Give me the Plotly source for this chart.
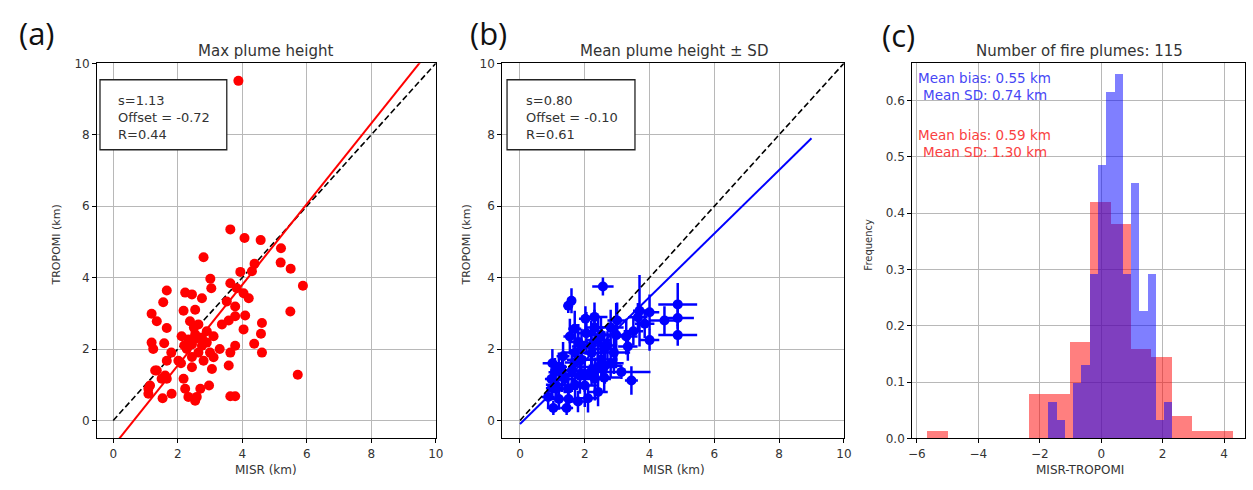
import plotly.graph_objects as go

W, H = 1253, 490

# ---------------- data: panel (a) max plume height ----------------
max_misr = [3.63, 4.07, 4.57, 5.20, 2.80, 5.19, 5.50, 4.38, 3.94, 4.30, 5.88, 3.01, 3.04, 3.63, 3.83,
            1.66, 2.23, 2.44, 2.75, 1.55, 4.20, 4.04, 3.78, 3.52, 5.49, 1.19, 2.18, 2.54, 1.35, 2.38,
            2.64, 1.66, 3.37, 3.58, 3.78, 4.09, 4.61, 4.04, 4.58, 1.19, 1.58, 1.24, 2.12, 2.33, 2.54,
            2.75, 3.11, 2.44, 2.75, 2.90, 2.28, 2.64, 3.78, 3.63, 4.37, 4.61, 2.02, 1.66, 2.44, 2.80,
            3.11, 2.44, 3.06, 3.58, 1.35, 1.61, 1.50, 1.14, 1.66, 2.18, 5.72, 1.09, 1.53, 1.81, 2.23,
            2.33, 2.59, 2.70, 2.97, 2.54, 3.63, 3.78, 1.09, 3.88, 2.60, 2.40, 2.20, 2.90, 1.80, 1.30,
            2.10, 3.00, 2.50, 3.30]
max_tropomi = [5.35, 5.11, 5.05, 4.82, 4.57, 4.42, 4.25, 4.39, 4.16, 4.18, 3.77, 3.97, 3.70, 3.84, 3.70,
               3.64, 3.58, 3.53, 3.42, 3.31, 3.42, 3.56, 3.19, 3.33, 3.05, 2.99, 3.07, 3.10, 2.78, 2.78,
               2.69, 2.59, 2.69, 2.80, 2.92, 2.94, 2.73, 2.55, 2.43, 2.18, 2.16, 2.00, 2.36, 2.27, 2.41,
               2.32, 2.36, 2.13, 2.09, 2.18, 2.00, 1.90, 2.09, 1.90, 2.15, 1.90, 1.67, 1.67, 1.78, 1.67,
               1.77, 1.49, 1.44, 1.54, 1.40, 1.26, 1.17, 0.98, 1.17, 1.17, 1.28, 0.75, 0.62, 0.75, 0.89,
               0.66, 0.66, 0.89, 0.98, 0.55, 0.68, 0.68, 0.89, 9.51, 2.30, 2.20, 2.10, 2.50, 1.90, 1.40,
               1.60, 1.90, 2.60, 2.00]
fit_a_x = [0.0, 10.0]
fit_a_y = [-0.72, 10.58]

# ---------------- data: panel (b) mean plume height +- SD ----------------
mean_misr = [2.56, 1.49, 1.59, 2.02, 3.69, 4.00, 4.46, 4.87, 4.87, 4.87, 3.85, 3.64, 4.00, 3.28, 3.33,
             2.97, 1.54, 2.05, 2.41, 1.90, 2.21, 2.51, 1.33, 1.69, 1.08, 0.97, 1.38, 1.85, 2.21, 3.13,
             3.44, 1.13, 1.49, 2.00, 2.41, 1.03, 1.44, 2.10, 0.87, 1.79, 2.31, 2.62, 1.69, 1.20, 1.00,
             2.60, 2.80, 1.70, 2.30, 1.10, 1.30, 1.60, 1.90, 2.20, 2.50, 2.70, 2.90, 1.80, 2.40,
             1.50, 1.20, 2.00, 2.60, 3.00, 2.30, 1.70, 1.00, 2.80, 3.50]
mean_tropomi = [3.75, 3.21, 3.35, 2.85, 3.07, 3.03, 2.80, 3.25, 2.87, 2.39, 2.71, 2.89, 2.25, 2.35, 2.07,
                2.39, 2.35, 2.44, 2.25, 2.07, 1.89, 1.71, 1.80, 1.62, 1.35, 1.16, 1.16, 1.25, 1.39, 1.36,
                1.12, 0.89, 0.89, 0.98, 0.80, 0.35, 0.35, 0.62, 0.66, 0.53, 1.16, 1.53, 2.57, 1.50, 0.90,
                2.00, 1.60, 1.00, 2.60, 1.00, 1.30, 1.40, 1.70, 2.10, 2.40, 2.10, 1.90, 2.20, 1.50,
                0.60, 0.60, 1.30, 1.20, 2.80, 2.90, 1.90, 1.60, 2.60, 2.50]
sd_misr = [0.33, 0.15, 0.10, 0.20, 0.20, 0.30, 0.45, 0.60, 0.50, 0.60, 0.30, 0.30, 0.30, 0.35, 0.30,
           0.30, 0.20, 0.30, 0.40, 0.30, 0.40, 0.50, 0.20, 0.30, 0.20, 0.20, 0.30, 0.40, 0.50, 0.90,
           0.20, 0.30, 0.30, 0.40, 0.30, 0.20, 0.20, 0.30, 0.20, 0.30, 0.50, 0.50, 0.20, 0.25, 0.20,
           0.40, 0.40, 0.30, 0.30, 0.30, 0.35, 0.40, 0.45, 0.50, 0.40, 0.30, 0.50, 0.30, 0.60,
           0.30, 0.25, 0.40, 0.50, 0.30, 0.40, 0.35, 0.30, 0.40, 0.30]
sd_tropomi = [0.25, 0.20, 0.35, 0.35, 1.00, 0.50, 0.40, 0.60, 0.30, 0.30, 0.40, 0.40, 0.30, 0.50, 0.40,
              0.90, 0.50, 0.60, 0.70, 0.50, 0.60, 0.50, 0.40, 0.50, 0.40, 0.30, 0.40, 0.50, 0.40, 0.20,
              0.40, 0.30, 0.40, 0.60, 0.40, 0.20, 0.20, 0.40, 0.30, 0.30, 0.60, 0.50, 0.50, 0.40, 0.30,
              0.50, 0.40, 0.40, 0.50, 0.40, 0.50, 0.60, 0.50, 0.70, 0.50, 0.40, 0.60, 0.50, 0.40,
              0.30, 0.30, 0.50, 0.40, 0.50, 0.40, 0.60, 0.40, 0.50, 0.40]
fit_b_x = [0.0, 9.0]
fit_b_y = [-0.10, 7.90]
one_to_one = [0.0, 10.0]

# ---------------- data: panel (c) histograms ----------------
red_left, red_width = -5.655, 0.663
red_freq = [0.0131, 0.0, 0.0, 0.0, 0.0, 0.0787, 0.0787, 0.1706, 0.4199, 0.3805,
            0.1575, 0.1443, 0.0394, 0.0131, 0.0131]
blue_left, blue_width = -1.71, 0.269
blue_freq = [0.0647, 0.0323, 0.0, 0.0970, 0.1293, 0.2909, 0.4849, 0.6141, 0.6464, 0.2909,
             0.4525, 0.2263, 0.2909, 0.0323, 0.0647]

# ---------------- helpers ----------------
def px(x):
    return x / W

def py(y):
    return 1 - y / H

FONT = "DejaVu Sans"
TXT = "#333333"

fig = go.Figure()

# panel (a)
fig.add_trace(go.Scatter(x=one_to_one, y=one_to_one, mode="lines",
                         line=dict(color="black", width=1.6, dash="6px,3px"),
                         xaxis="x", yaxis="y", showlegend=False))
fig.add_trace(go.Scatter(x=max_misr, y=max_tropomi, mode="markers",
                         marker=dict(color="red", size=10),
                         xaxis="x", yaxis="y", showlegend=False))
fig.add_trace(go.Scatter(x=fit_a_x, y=fit_a_y, mode="lines",
                         line=dict(color="red", width=2),
                         xaxis="x", yaxis="y", showlegend=False))

# panel (b)
fig.add_trace(go.Scatter(x=mean_misr, y=mean_tropomi, mode="markers",
                         marker=dict(color="blue", size=10),
                         error_x=dict(type="data", array=sd_misr, color="blue", thickness=2.5, width=0),
                         error_y=dict(type="data", array=sd_tropomi, color="blue", thickness=2.5, width=0),
                         xaxis="x2", yaxis="y2", showlegend=False))
fig.add_trace(go.Scatter(x=one_to_one, y=one_to_one, mode="lines",
                         line=dict(color="black", width=1.6, dash="6px,3px"),
                         xaxis="x2", yaxis="y2", showlegend=False))
fig.add_trace(go.Scatter(x=fit_b_x, y=fit_b_y, mode="lines",
                         line=dict(color="blue", width=2),
                         xaxis="x2", yaxis="y2", showlegend=False))

# panel (c)
red_centers = [red_left + red_width * (i + 0.5) for i in range(len(red_freq))]
blue_centers = [blue_left + blue_width * (i + 0.5) for i in range(len(blue_freq))]
fig.add_trace(go.Bar(x=red_centers, y=red_freq, width=red_width,
                     marker=dict(color="rgba(255,0,0,0.5)", line=dict(width=0)),
                     xaxis="x3", yaxis="y3", showlegend=False))
fig.add_trace(go.Bar(x=blue_centers, y=blue_freq, width=blue_width,
                     marker=dict(color="rgba(0,0,255,0.5)", line=dict(width=0)),
                     xaxis="x3", yaxis="y3", showlegend=False))

axis_common = dict(showline=True, linecolor="black", linewidth=1, mirror=True,
                   ticks="outside", ticklen=4, tickcolor="black", tickwidth=1,
                   showgrid=True, gridcolor="#b8b8b8", gridwidth=1, zeroline=False,
                   tickfont=dict(family=FONT, size=12, color=TXT))

ydom = [py(444), py(58)]
fig.update_layout(
    width=W, height=H,
    margin=dict(l=0, r=0, t=0, b=0),
    paper_bgcolor="white", plot_bgcolor="white",
    barmode="overlay", bargap=0,
    xaxis=dict(domain=[px(94), px(436)], range=[-0.5, 10], dtick=2, tick0=0, anchor="y", **axis_common),
    yaxis=dict(domain=ydom, range=[-0.5, 10], dtick=2, tick0=0, anchor="x", **axis_common),
    xaxis2=dict(domain=[px(503), px(848)], range=[-0.55, 10], dtick=2, tick0=0, anchor="y2", **axis_common),
    yaxis2=dict(domain=ydom, range=[-0.5, 10], dtick=2, tick0=0, anchor="x2", **axis_common),
    xaxis3=dict(domain=[px(917), 1.0], range=[-6.15, 4.68], dtick=2, tick0=0, anchor="y3", **axis_common),
    yaxis3=dict(domain=ydom, range=[0, 0.666], dtick=0.1, tick0=0, tickformat=".1f", anchor="x3", **axis_common),
)

# text boxes
fig.add_shape(type="rect", xref="x", yref="y", x0=-0.41, x1=3.52, y0=7.58, y1=9.54,
              line=dict(color="#222222", width=1.3), fillcolor="white", layer="above")
fig.add_shape(type="rect", xref="x2", yref="y2", x0=-0.40, x1=3.55, y0=7.58, y1=9.54,
              line=dict(color="#222222", width=1.3), fillcolor="white", layer="above")

ann = []
def text(x, y, s, size=12, color=TXT, xanchor="center", yanchor="middle", align="center", angle=0, family=FONT):
    ann.append(dict(x=px(x), y=py(y), xref="paper", yref="paper", text=s, showarrow=False,
                    xanchor=xanchor, yanchor=yanchor, align=align, textangle=angle,
                    font=dict(family=family, size=size, color=color)))

text(113, 86, "s=1.13<br>Offset = -0.72<br>R=0.44", size=13, xanchor="left", yanchor="top", align="left")
text(525, 86, "s=0.80<br>Offset = -0.10<br>R=0.61", size=13, xanchor="left", yanchor="top", align="left")

# titles
text(265, 45, "Max plume height", size=15)
text(676, 45, "Mean plume height ± SD", size=15)
text(1086, 45, "Number of fire plumes: 115", size=15)

# panel labels
text(33, 27, "(a)", size=31, family="Open Sans", color="#111111")
text(489, 27, "(b)", size=31, family="Open Sans", color="#111111")
text(903, 29, "(c)", size=31, family="Open Sans", color="#111111")

# axis titles
text(265, 477, "MISR (km)", size=12)
text(676, 477, "MISR (km)", size=12)
text(1086, 477, "MISR-TROPOMI", size=12)
text(53, 245, "TROPOMI (km)", size=11, angle=-90)
text(466, 245, "TROPOMI (km)", size=11, angle=-90)
text(872, 245, "Frequency", size=10, angle=-90)

# histogram annotations
text(990, 73, "Mean bias: 0.55 km", size=13.5, color="rgb(70,70,245)")
text(990, 91, "Mean SD: 0.74 km", size=13.5, color="rgb(70,70,245)")
text(990, 132, "Mean bias: 0.59 km", size=13.5, color="rgb(250,65,65)")
text(990, 149, "Mean SD: 1.30 km", size=13.5, color="rgb(250,65,65)")

fig.update_layout(annotations=ann)
fig.write_html("out.html", config={"displayModeBar": False},
               post_script="document.body.style.margin='0';document.body.style.overflow='hidden';")
